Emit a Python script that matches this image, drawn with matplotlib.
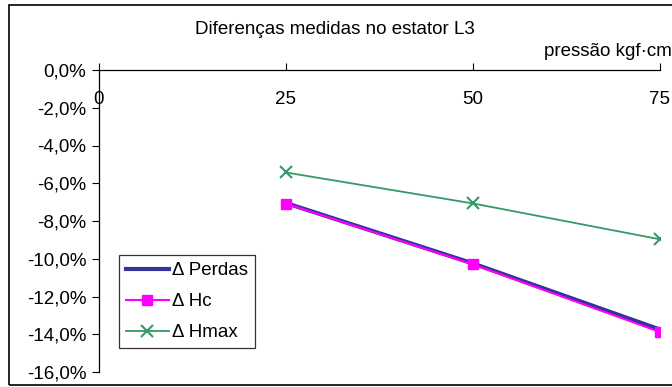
import matplotlib
matplotlib.use("Agg")
import matplotlib.pyplot as plt
from matplotlib.ticker import FuncFormatter
from matplotlib.patches import Rectangle

plt.rcParams['font.family'] = ['Liberation Sans', 'DejaVu Sans']

pressao = [25, 50, 75]
perdas = [-7.05, -10.25, -13.75]
hc = [-7.08, -10.30, -13.88]
hmax = [-5.43, -7.07, -8.97]
x_ticks = [0, 25, 50, 75]
y_ticks = [0, -2, -4, -6, -8, -10, -12, -14, -16]

fig = plt.figure(figsize=(6.72, 3.87), dpi=100)
ax = fig.add_axes([99/672, 1-372/387, (660-99)/672, (372-70)/387])

fs = 13.5
ax.plot(pressao, perdas, color='#333399', lw=3, label='Δ Perdas', zorder=3)
ax.plot(pressao, hc, color='#FF00FF', lw=1.5, marker='s', ms=7.5, label='Δ Hc', zorder=4)
ax.plot(pressao, hmax, color='#339966', lw=1.3, marker='x', ms=8, mew=1.5, label='Δ Hmax', zorder=4)

ax.set_xlim(0, 75)
ax.set_ylim(-16, 0)
ax.set_xticks(x_ticks)
ax.set_yticks(y_ticks)
ax.yaxis.set_major_formatter(FuncFormatter(lambda v, p: f"{v:.1f}%".replace('.', ',')))
ax.xaxis.tick_top()
ax.tick_params(axis='x', direction='out', length=5, labelsize=fs, pad=-20, labeltop=True)
ax.tick_params(axis='y', direction='out', length=5, labelsize=fs, pad=4)
for lab in ax.get_xticklabels():
    lab.set_verticalalignment('top')
ax.spines['right'].set_visible(False)
ax.spines['bottom'].set_visible(False)
for s in ['left', 'top']:
    ax.spines[s].set_linewidth(0.9)

leg = ax.legend(loc='lower left', bbox_to_anchor=(20/561, 24/302), fontsize=fs,
                frameon=True, fancybox=False, edgecolor='black', borderpad=0.35,
                handlelength=2.3, handletextpad=0.2, labelspacing=0.75, borderaxespad=0)
leg.get_frame().set_linewidth(0.9)

fig.text(335/672, 1-30/387, 'Diferenças medidas no estator L3', ha='center', va='center', fontsize=fs)
fig.text(672/672, 1-52/387, 'pressão kgf·cm', ha='right', va='center', fontsize=fs)

fig.patches.append(Rectangle((9/672, 2/387), 1.0, 380/387, transform=fig.transFigure,
                             fill=False, edgecolor='black', lw=1.2))

fig.savefig('out.png', dpi=100)
